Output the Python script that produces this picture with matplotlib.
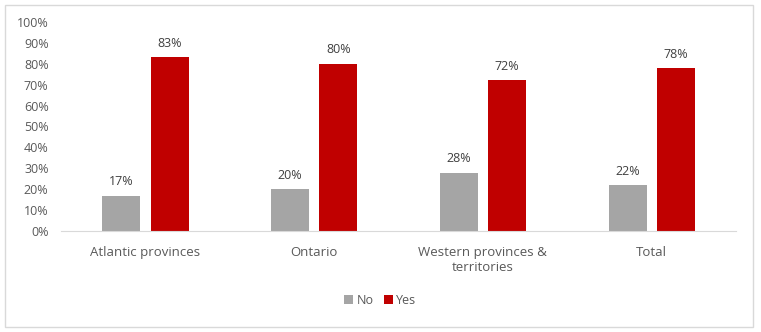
import matplotlib
matplotlib.use("Agg")
import matplotlib.pyplot as plt
from matplotlib.patches import Rectangle
import numpy as np

categories = ["Atlantic provinces", "Ontario", "Western provinces &\nterritories", "Total"]
no_vals = [17, 20, 28, 22]
yes_vals = [83, 80, 72, 78]
series_names = ["No", "Yes"]
yticks = [0, 10, 20, 30, 40, 50, 60, 70, 80, 90, 100]

plt.rcParams['font.family'] = ['Open Sans', 'DejaVu Sans']

fig = plt.figure(figsize=(7.61, 3.32), dpi=100)
ax = fig.add_axes([0.0802, 0.304, 0.887, 0.63])

x = np.arange(len(categories))
w = 0.225
off = 0.143
b1 = ax.bar(x - off, no_vals, w, color="#A5A5A5", label=series_names[0])
b2 = ax.bar(x + off, yes_vals, w, color="#C00000", label=series_names[1])

for bars, vals in ((b1, no_vals), (b2, yes_vals)):
    for r, v in zip(bars, vals):
        ax.text(r.get_x() + r.get_width() / 2, v + 3.5, f"{v}%", ha="center", va="bottom",
                fontsize=9, color="#404040")

ax.set_xlim(-0.5, len(categories) - 0.5)
ax.set_ylim(0, 100)
ax.set_yticks(yticks)
ax.set_yticklabels([f"{t}%" for t in yticks], fontsize=9, color="#595959")
ax.set_xticks(x)
ax.set_xticklabels(categories, fontsize=9.5, color="#595959", linespacing=1.15)
ax.tick_params(axis="y", length=0, pad=9)
ax.tick_params(axis="x", length=0, pad=11)
for s in ["top", "right", "left"]:
    ax.spines[s].set_visible(False)
ax.spines["bottom"].set_color("#D9D9D9")

leg = fig.legend(handles=[b1, b2], labels=series_names, loc="center", bbox_to_anchor=(0.5, 0.095),
                 ncol=2, frameon=False, fontsize=9, handlelength=0.7, handleheight=0.7,
                 columnspacing=0.8, handletextpad=0.3)
for t in leg.get_texts():
    t.set_color("#595959")

fig.patches.append(Rectangle((0.006, 0.015), 0.9835, 0.97, transform=fig.transFigure,
                             fill=False, edgecolor="#D9D9D9", linewidth=1))

fig.savefig("out.png", dpi=100)
